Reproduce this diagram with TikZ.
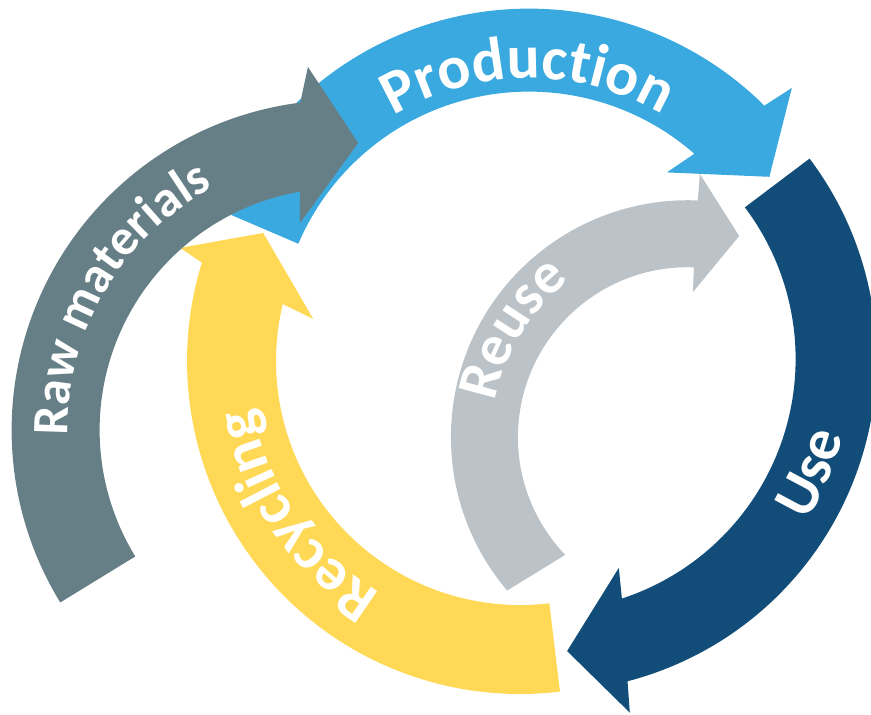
\documentclass[tikz,border=0pt]{standalone}
\usepackage{fontspec}
\setmainfont{Carlito}
\usetikzlibrary{decorations.text}
\definecolor{prodblue}{HTML}{3AA9E0}
\definecolor{useblue}{HTML}{114D78}
\definecolor{rawgrey}{HTML}{667F86}
\definecolor{recyellow}{HTML}{FFD955}
\definecolor{reusegrey}{HTML}{BCC3C8}
\tikzset{arclabel/.style={decorate, decoration={text along path, text align=center, text color=white}}}
\begin{document}
\begin{tikzpicture}[x=0.01cm, y=0.01cm]
	\useasboundingbox (0,0) rectangle (871,714);
	% reuse
	\fill[reusegrey, shift={(687.9,276.8)}] (220.3:237) arc[start angle=220.3, end angle=87.6, radius=237] -- (87.4:263.5) -- (75.7:207.6) -- (88:145.3) -- (88:170) arc[start angle=88, end angle=223.8, radius=170] -- cycle;
	\path[arclabel, decoration={text={|\bfseries\fontsize{16.5}{19}\selectfont|Reuse}}, shift={(687.9,276.8)}] (200:196) arc[start angle=200, end angle=96.8, radius=196];
	% recycling
	\fill[recyellow, shift={(520,353)}] (276.9:333) arc[start angle=276.9, end angle=162.8, radius=333] -- (161.6:358.3) -- (153.5:287) -- (168.5:211) -- (166.5:244) arc[start angle=166.5, end angle=276.9, radius=244] -- cycle;
	\path[arclabel, decoration={text={|\bfseries\fontsize{17}{20}\selectfont|Recycling}}, shift={(520,353)}] (264.5:271) arc[start angle=264.5, end angle=164.5, radius=271];
	% use
	\fill[useblue, shift={(543.6,355)}] (37:333) arc[start angle=37, end angle=-75.4, radius=333] -- (-76.3:364) -- (-85.4:293) -- (-70.2:222) -- (-71.9:252) arc[start angle=-71.9, end angle=37, radius=252] -- cycle;
	\path[arclabel, decoration={text={|\bfseries\fontsize{17}{20}\selectfont|Use}}, shift={(543.6,355)}] (-73:309) arc[start angle=-73, end angle=27, radius=309];
	% production
	\fill[prodblue, shift={(529,371.4)}] (156.8:334) arc[start angle=156.8, end angle=45.2, radius=334] -- (44.1:366) -- (34.6:292) -- (51:219) -- (48.8:251) arc[start angle=48.8, end angle=156.8, radius=251] -- cycle;
	\path[arclabel, decoration={text={|\bfseries\fontsize{17.5}{21}\selectfont|Production}}, shift={(529,371.4)}] (150.3:264) arc[start angle=150.3, end angle=30.3, radius=264];
	% raw materials
	\fill[rawgrey, shift={(341.6,284)}] (211.5:330) arc[start angle=211.5, end angle=97.2, radius=330] -- (95.3:364.6) -- (86.7:287.5) -- (101.4:211) -- (99.9:242) arc[start angle=99.9, end angle=211.5, radius=242] -- cycle;
	\path[arclabel, decoration={text={|\bfseries\fontsize{14.5}{17}\selectfont|Raw materials}}, shift={(341.6,284)}] (204.5:274) arc[start angle=204.5, end angle=94.5, radius=274];
\end{tikzpicture}
\end{document}
